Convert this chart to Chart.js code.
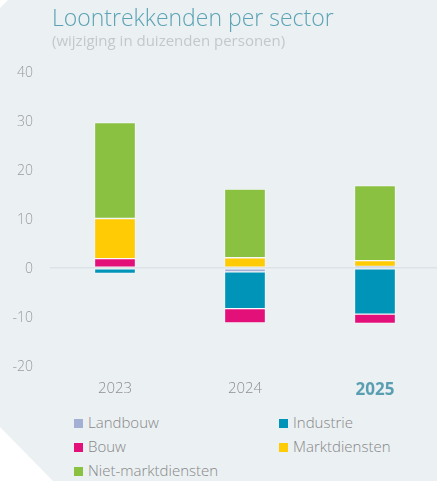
<!DOCTYPE html>
<html>
<head>
<meta charset="utf-8">
<script src="https://cdn.jsdelivr.net/npm/chart.js@4.4.1/dist/chart.umd.min.js"></script>
<style>
  html, body { margin: 0; padding: 0; width: 437px; height: 481px; overflow: hidden; background: #fff; }
  #wrap { position: relative; width: 437px; height: 481px; overflow: hidden; }
  #bg { position: absolute; left: 0; top: 0; width: 437px; height: 481px; background: #ebf0f3;
        clip-path: polygon(8px 0, 437px 0, 437px 481px, 53px 481px, 0 427px, 0 8px); }
  #box { position: absolute; left: 0; top: 0; width: 440px; height: 405px; }
  #legend { position: absolute; left: 0; top: 410px; width: 437px; font-family: 'Open Sans', sans-serif;
            font-weight: 300; font-size: 15px; color: #878787; }
  .item { position: absolute; height: 24px; line-height: 24px; white-space: nowrap; }
  .item span { display: inline-block; width: 9px; height: 9px; margin-right: 5px; vertical-align: 0; }
</style>
</head>
<body>
<div id="wrap">
  <div id="bg"></div>
  <div id="box"><canvas id="chart"></canvas></div>
  <div id="legend"></div>
</div>
<script>
// Gegevens
const years = ['2023', '2024', '2025'];
const landbouw = [0, -0.8, 0.3];
const industrie = [-1.1, -7.5, -9.4];
const bouw = [1.9, -2.9, -1.9];
const marktdiensten = [8.2, 2.1, 1.2];
const nietMarktdiensten = [19.6, 14.0, 15.3];
const yTicks = [-20, -10, 0, 10, 20, 30, 40];

const series = [
    { label: 'Landbouw', data: landbouw, color: '#a4afd4' },
    { label: 'Industrie', data: industrie, color: '#0094b9' },
    { label: 'Bouw', data: bouw, color: '#e4107a' },
    { label: 'Marktdiensten', data: marktdiensten, color: '#ffcb05' },
    { label: 'Niet-marktdiensten', data: nietMarktdiensten, color: '#8bc141' }
];

// Titel en ondertitel
const titlePlugin = {
    id: 'titles',
    afterDraw(chart) {
        const ctx = chart.ctx;
        ctx.save();
        ctx.textBaseline = 'alphabetic';
        ctx.textAlign = 'left';
        ctx.fillStyle = '#5ba3b4';
        ctx.font = '300 23px "Open Sans", sans-serif';
        ctx.fillText('Loontrekkenden per sector', 52, 26);
        ctx.fillStyle = '#c4c8cb';
        ctx.font = '400 15px "Open Sans", sans-serif';
        ctx.fillText('(wijziging in duizenden personen)', 52, 46);
        ctx.restore();
    }
};

const ctx = document.getElementById('chart').getContext('2d');
const chart = new Chart(ctx, {
    type: 'bar',
    data: {
        labels: years,
        datasets: series.map(s => ({
            label: s.label,
            data: s.data,
            backgroundColor: s.color,
            borderColor: 'rgba(255,255,255,0.45)',
            borderWidth: 1,
            borderSkipped: false,
            barThickness: 41
        }))
    },
    options: {
        responsive: true,
        maintainAspectRatio: false,
        animation: false,
        layout: { padding: { top: 72, left: 0, right: 0, bottom: 0 } },
        scales: {
            x: {
                stacked: true,
                grid: { display: false },
                border: { display: false },
                afterFit(scale) { scale.height = 39; },
                ticks: {
                    padding: 6,
                    color: ctx => ctx.index === 2 ? '#5a9fb1' : '#8f8f8f',
                    font: ctx => ctx.index === 2
                        ? { family: 'Open Sans', size: 17, weight: 'bold' }
                        : { family: 'Open Sans', size: 15, weight: 300 }
                }
            },
            y: {
                stacked: true,
                min: -20,
                max: 40,
                afterFit(scale) { scale.width = 50; },
                afterBuildTicks(scale) { scale.ticks = yTicks.map(v => ({ value: v })); },
                border: { display: false },
                grid: {
                    drawTicks: false,
                    color: ctx => ctx.tick && ctx.tick.value === 0 ? '#dce2e5' : 'transparent',
                    lineWidth: 1.5
                },
                ticks: {
                    padding: 17,
                    labelOffset: 1,
                    color: '#9a9a9a',
                    font: { family: 'Open Sans', size: 14, weight: 300 }
                }
            }
        },
        plugins: {
            legend: { display: false },
            tooltip: { enabled: false }
        }
    },
    plugins: [titlePlugin]
});

// Legende in twee kolommen
const legend = document.getElementById('legend');
const cols = [74, 279];
chart.data.datasets.forEach((ds, i) => {
    const el = document.createElement('div');
    el.className = 'item';
    el.style.left = cols[i % 2] + 'px';
    el.style.top = (Math.floor(i / 2) * 24) + 'px';
    el.innerHTML = '<span style="background:' + ds.backgroundColor + '"></span>' + ds.label;
    legend.appendChild(el);
});
</script>
</body>
</html>
